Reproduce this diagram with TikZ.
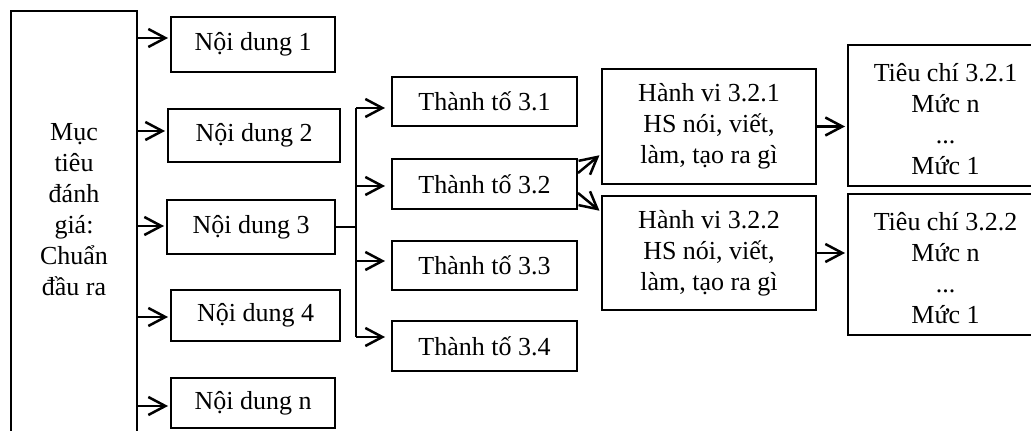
\documentclass[tikz,border=0pt]{standalone}
\usepackage{fontspec}
\setmainfont{Liberation Serif}
\usetikzlibrary{arrows.meta}
\begin{document}
\begin{tikzpicture}[x=0.5pt,y=-0.5pt,
  txt/.style={align=center, font=\fontsize{13}{15.5}\selectfont},
  box/.style={txt, draw, line width=1pt, inner sep=0pt},
  arr/.style={line width=1.25pt, -{Straight Barb[length=8.5pt,width=9pt]}, shorten >=1pt},
  link/.style={line width=1.1pt}]
\useasboundingbox (0,0) rectangle (1031,431);
\clip (0,0) rectangle (1031,431);

% goal column
\node[box, minimum width=63pt, minimum height=224.5pt] (goal) at (74,235.5) {};
\node[txt] (goaltxt) at (74,210) {Mục\\tiêu\\đánh\\giá:\\Chuẩn\\đầu ra};

% contents
\node[box, minimum width=82pt,   minimum height=27.5pt] (n1) at (253,44.5)    {Nội dung 1};
\node[box, minimum width=86pt,   minimum height=26.5pt] (n2) at (254,135.5)   {Nội dung 2};
\node[box, minimum width=84pt,   minimum height=27pt]   (n3) at (251,227)     {Nội dung 3};
\node[box, minimum width=84.5pt, minimum height=25.5pt] (n4) at (255.5,315.5) {Nội dung 4};
\node[box, minimum width=82pt,   minimum height=25pt]   (nn) at (253,403)     {Nội dung n};

% components of content 3
\node[box, minimum width=92.5pt, minimum height=24.5pt] (tt1) at (484.5,101.5) {Thành tố 3.1};
\node[box, minimum width=92.5pt, minimum height=25pt]   (tt2) at (484.5,184)   {Thành tố 3.2};
\node[box, minimum width=92.5pt, minimum height=24.5pt] (tt3) at (484.5,265.5) {Thành tố 3.3};
\node[box, minimum width=92.5pt, minimum height=25pt]   (tt4) at (484.5,346)   {Thành tố 3.4};

% behaviours
\node[box, minimum width=107pt, minimum height=57.5pt] (hv1) at (709,126.5) {Hành vi 3.2.1\\HS nói, viết,\\làm, tạo ra gì};
\node[box, minimum width=107pt, minimum height=57pt]   (hv2) at (709,253)   {Hành vi 3.2.2\\HS nói, viết,\\làm, tạo ra gì};

% criteria (frame and text set separately)
\node[box, minimum width=97.5pt, minimum height=70.5pt] (tc1) at (945.5,115.5) {};
\node[txt] (tc1txt) at (945.5,119.5) {Tiêu chí 3.2.1\\Mức n\\...\\Mức 1};
\node[box, minimum width=97.5pt, minimum height=70.5pt] (tc2) at (945.5,264.5) {};
\node[txt] (tc2txt) at (945.5,268.5) {Tiêu chí 3.2.2\\Mức n\\...\\Mức 1};

% goal -> contents
\draw[arr] ([yshift=3.25pt]goal.east |- n1.west) -- ([yshift=3.25pt]n1.west);
\draw[arr] ([yshift=2.25pt]goal.east |- n2.west) -- ([yshift=2.25pt]n2.west);
\draw[arr] ([yshift=0.5pt]goal.east |- n3.west) -- ([yshift=0.5pt]n3.west);
\draw[arr] ([yshift=-0.75pt]goal.east |- n4.west) -- ([yshift=-0.75pt]n4.west);
\draw[arr] ([yshift=-1.5pt]goal.east |- nn.west) -- ([yshift=-1.5pt]nn.west);

% content 3 -> components
\coordinate (jx) at (356,227);
\draw[link] (n3.east) -- (jx);
\draw[link] ([yshift=-3.25pt]jx |- tt1.west) -- ([yshift=4.5pt]jx |- tt4.west);
\draw[arr, shorten >=3pt] ([yshift=-3.25pt]jx |- tt1.west) -- ([yshift=-3.25pt]tt1.west);
\draw[arr, shorten >=3pt] ([yshift=-1pt]jx |- tt2.west) -- ([yshift=-1pt]tt2.west);
\draw[arr, shorten >=3pt] ([yshift=2.25pt]jx |- tt3.west) -- ([yshift=2.25pt]tt3.west);
\draw[arr, shorten >=3pt] ([yshift=4.5pt]jx |- tt4.west) -- ([yshift=4.5pt]tt4.west);

% component 3.2 -> behaviours
\draw[arr] ([yshift=5.5pt]tt2.east) -- ([yshift=15.5pt]hv1.south west);
\draw[arr] ([yshift=-4.5pt]tt2.east) -- ([yshift=-8.5pt]hv2.north west);

% behaviours -> criteria
\draw[arr] (hv1.east) -- (hv1.east -| tc1.west);
\draw[arr] (hv2.east) -- (hv2.east -| tc2.west);
\end{tikzpicture}
\end{document}
